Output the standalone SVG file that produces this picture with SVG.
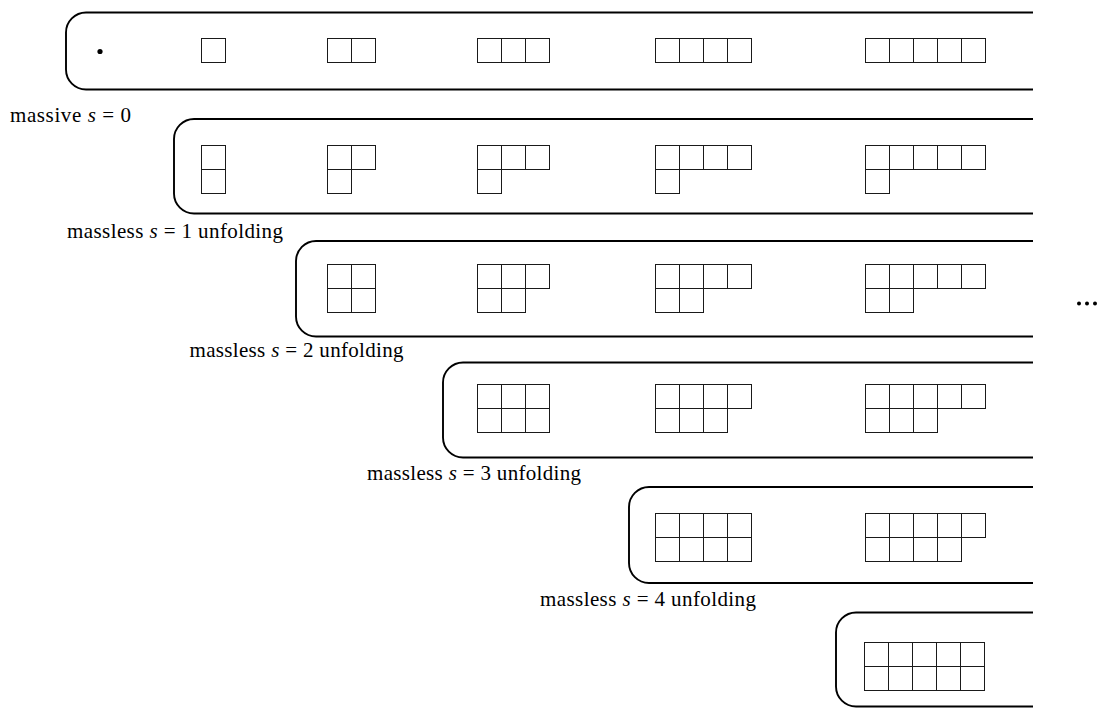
<svg xmlns="http://www.w3.org/2000/svg" xmlns:xlink="http://www.w3.org/1999/xlink" width="1097" height="708" viewBox="0 0 1097 708">
<style>
.box{fill:none;stroke:#000;stroke-width:1.9}
.lbl{font-family:"Liberation Serif","Times New Roman",serif;font-size:21px;fill:#000}
.it{font-style:italic}
.dot{fill:#000}
</style>
<defs>
<rect id="c" width="24" height="24" fill="none" stroke="#1a1a1a" stroke-width="1"/>
</defs>
<rect width="1097" height="708" fill="#fff"/>
<g id="connectors"></g>

<g id="massive-s0">
<path class="box" d="M1033,12.5 H86 A20,20 0 0 0 66,32.5 V69.5 A20,20 0 0 0 86,89.5 H1033"/>
<circle class="dot" cx="100" cy="51.5" r="2.6"/>
<use href="#c" x="201.5" y="38.5"/>
<use href="#c" x="327.5" y="38.5"/><use href="#c" x="351.5" y="38.5"/>
<use href="#c" x="477.5" y="38.5"/><use href="#c" x="501.5" y="38.5"/><use href="#c" x="525.5" y="38.5"/>
<use href="#c" x="655.5" y="38.5"/><use href="#c" x="679.5" y="38.5"/><use href="#c" x="703.5" y="38.5"/><use href="#c" x="727.5" y="38.5"/>
<use href="#c" x="865.5" y="38.5"/><use href="#c" x="889.5" y="38.5"/><use href="#c" x="913.5" y="38.5"/><use href="#c" x="937.5" y="38.5"/><use href="#c" x="961.5" y="38.5"/>
<text class="lbl" x="10" y="122" textLength="121">massive <tspan class="it">s</tspan> = 0</text>
</g>

<g id="massless-s1">
<path class="box" d="M1033,119 H194 A20,20 0 0 0 174,139 V193.5 A20,20 0 0 0 194,213.5 H1033"/>
<use href="#c" x="201.5" y="145.5"/><use href="#c" x="201.5" y="169.5"/>
<use href="#c" x="327.5" y="145.5"/><use href="#c" x="351.5" y="145.5"/><use href="#c" x="327.5" y="169.5"/>
<use href="#c" x="477.5" y="145.5"/><use href="#c" x="501.5" y="145.5"/><use href="#c" x="525.5" y="145.5"/><use href="#c" x="477.5" y="169.5"/>
<use href="#c" x="655.5" y="145.5"/><use href="#c" x="679.5" y="145.5"/><use href="#c" x="703.5" y="145.5"/><use href="#c" x="727.5" y="145.5"/><use href="#c" x="655.5" y="169.5"/>
<use href="#c" x="865.5" y="145.5"/><use href="#c" x="889.5" y="145.5"/><use href="#c" x="913.5" y="145.5"/><use href="#c" x="937.5" y="145.5"/><use href="#c" x="961.5" y="145.5"/><use href="#c" x="865.5" y="169.5"/>
<text class="lbl" x="67" y="237.5" textLength="216">massless <tspan class="it">s</tspan> = 1 unfolding</text>
</g>

<g id="massless-s2">
<path class="box" d="M1033,241 H316 A20,20 0 0 0 296,261 V316.5 A20,20 0 0 0 316,336.5 H1033"/>
<use href="#c" x="327.5" y="264.5"/><use href="#c" x="351.5" y="264.5"/><use href="#c" x="327.5" y="288.5"/><use href="#c" x="351.5" y="288.5"/>
<use href="#c" x="477.5" y="264.5"/><use href="#c" x="501.5" y="264.5"/><use href="#c" x="525.5" y="264.5"/><use href="#c" x="477.5" y="288.5"/><use href="#c" x="501.5" y="288.5"/>
<use href="#c" x="655.5" y="264.5"/><use href="#c" x="679.5" y="264.5"/><use href="#c" x="703.5" y="264.5"/><use href="#c" x="727.5" y="264.5"/><use href="#c" x="655.5" y="288.5"/><use href="#c" x="679.5" y="288.5"/>
<use href="#c" x="865.5" y="264.5"/><use href="#c" x="889.5" y="264.5"/><use href="#c" x="913.5" y="264.5"/><use href="#c" x="937.5" y="264.5"/><use href="#c" x="961.5" y="264.5"/><use href="#c" x="865.5" y="288.5"/><use href="#c" x="889.5" y="288.5"/>
<text class="lbl" x="189.5" y="357" textLength="214">massless <tspan class="it">s</tspan> = 2 unfolding</text>
</g>

<g id="massless-s3">
<path class="box" d="M1033,362.5 H463 A20,20 0 0 0 443,382.5 V437.5 A20,20 0 0 0 463,457.5 H1033"/>
<use href="#c" x="477.5" y="384.5"/><use href="#c" x="501.5" y="384.5"/><use href="#c" x="525.5" y="384.5"/><use href="#c" x="477.5" y="408.5"/><use href="#c" x="501.5" y="408.5"/><use href="#c" x="525.5" y="408.5"/>
<use href="#c" x="655.5" y="384.5"/><use href="#c" x="679.5" y="384.5"/><use href="#c" x="703.5" y="384.5"/><use href="#c" x="727.5" y="384.5"/><use href="#c" x="655.5" y="408.5"/><use href="#c" x="679.5" y="408.5"/><use href="#c" x="703.5" y="408.5"/>
<use href="#c" x="865.5" y="384.5"/><use href="#c" x="889.5" y="384.5"/><use href="#c" x="913.5" y="384.5"/><use href="#c" x="937.5" y="384.5"/><use href="#c" x="961.5" y="384.5"/><use href="#c" x="865.5" y="408.5"/><use href="#c" x="889.5" y="408.5"/><use href="#c" x="913.5" y="408.5"/>
<text class="lbl" x="367" y="480" textLength="214">massless <tspan class="it">s</tspan> = 3 unfolding</text>
</g>

<g id="massless-s4">
<path class="box" d="M1033,487 H649 A20,20 0 0 0 629,507 V563 A20,20 0 0 0 649,583 H1033"/>
<use href="#c" x="655.5" y="513.5"/><use href="#c" x="679.5" y="513.5"/><use href="#c" x="703.5" y="513.5"/><use href="#c" x="727.5" y="513.5"/><use href="#c" x="655.5" y="537.5"/><use href="#c" x="679.5" y="537.5"/><use href="#c" x="703.5" y="537.5"/><use href="#c" x="727.5" y="537.5"/>
<use href="#c" x="865.5" y="513.5"/><use href="#c" x="889.5" y="513.5"/><use href="#c" x="913.5" y="513.5"/><use href="#c" x="937.5" y="513.5"/><use href="#c" x="961.5" y="513.5"/><use href="#c" x="865.5" y="537.5"/><use href="#c" x="889.5" y="537.5"/><use href="#c" x="913.5" y="537.5"/><use href="#c" x="937.5" y="537.5"/>
<text class="lbl" x="540" y="606" textLength="216">massless <tspan class="it">s</tspan> = 4 unfolding</text>
</g>

<g id="massless-s5">
<path class="box" d="M1033,612.5 H856 A20,20 0 0 0 836,632.5 V686.5 A20,20 0 0 0 856,706.5 H1033"/>
<use href="#c" x="864.5" y="642.5"/><use href="#c" x="888.5" y="642.5"/><use href="#c" x="912.5" y="642.5"/><use href="#c" x="936.5" y="642.5"/><use href="#c" x="960.5" y="642.5"/>
<use href="#c" x="864.5" y="666.5"/><use href="#c" x="888.5" y="666.5"/><use href="#c" x="912.5" y="666.5"/><use href="#c" x="936.5" y="666.5"/><use href="#c" x="960.5" y="666.5"/>
</g>

<g id="ellipsis">
<circle class="dot" cx="1079" cy="303.5" r="2"/>
<circle class="dot" cx="1087" cy="303.5" r="2"/>
<circle class="dot" cx="1095" cy="303.5" r="2"/>
</g>
</svg>
